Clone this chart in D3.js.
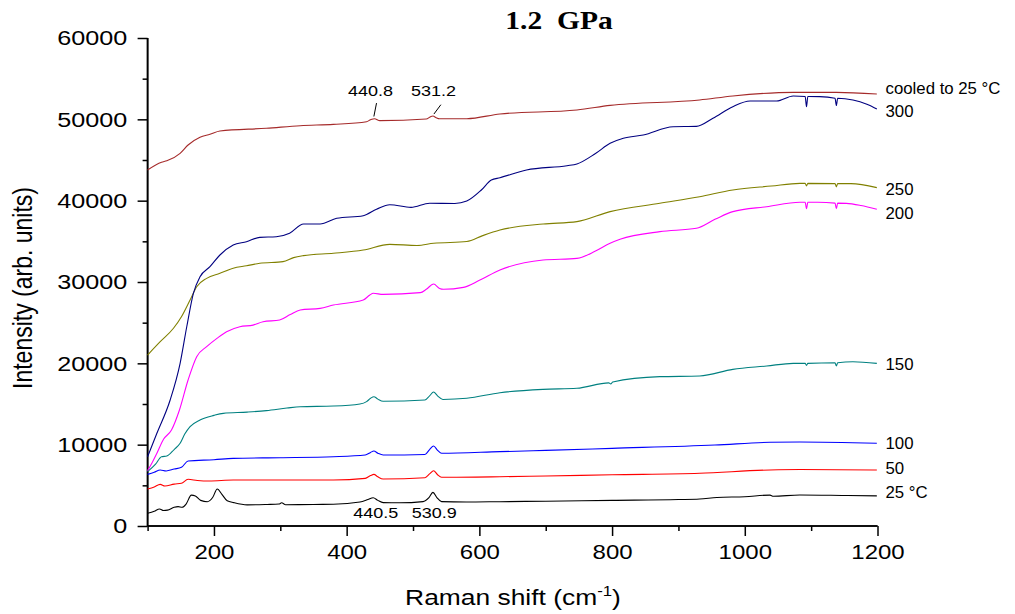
<!DOCTYPE html>
<html><head><meta charset="utf-8">
<script src="https://cdn.jsdelivr.net/npm/d3@7"></script>
<style>
body{margin:0;background:#fff;}
text{fill:#000;}
</style></head>
<body><svg id="c" width="1015" height="614"></svg>
<script>
// ---- data (Raman shift cm^-1, intensity arb. units) ----
const xTicks = [200, 400, 600, 800, 1000, 1200];
const yTicks = [0, 10000, 20000, 30000, 40000, 50000, 60000];
const seriesNames = ["25 \u00B0C", "50", "100", "150", "200", "250", "300", "cooled to 25 \u00B0C"];
const seriesColors = ["#000000", "#ff0000", "#0000ff", "#008080", "#ff00ff", "#808000", "#000080", "#a52a2a"];
const labelValues = [4120, 7160, 10240, 19860, 38540, 41430, 51020, 53850];

const s25 = [[100,1560],[110,1800],[118,2090],[124,1900],[130,1950],[140,2300],[146,2380],[152,2300],[158,2700],[166,3800],[172,3700],[180,3150],[190,2990],[198,3500],[205,4550],[212,3900],[220,3100],[230,2870],[250,2600],[280,2650],[298,2700],[302,2850],[308,2620],[350,2650],[380,2670],[420,2950],[432,3250],[440,3480],[447,3150],[455,2880],[480,2850],[515,3000],[524,3500],[530,4140],[536,3500],[543,3000],[580,2950],[631,2990],[700,3050],[800,3150],[900,3250],[932,3320],[958,3500],[1000,3600],[1038,3800],[1043,3650],[1083,3810],[1150,3750],[1199,3700]];
const s50 = [[100,4550],[110,4800],[119,5120],[126,4920],[140,5150],[151,5250],[161,5740],[175,5600],[193,5530],[229,5650],[300,5650],[380,5650],[428,5860],[436,6200],[441,6350],[447,6050],[455,5780],[518,5940],[525,6400],[531,6800],[537,6300],[543,5990],[631,6060],[700,6150],[800,6300],[932,6480],[1038,6890],[1083,6940],[1199,6890]];
const s100 = [[100,6350],[110,6600],[119,6890],[128,6770],[140,7000],[151,7210],[161,7990],[200,8150],[229,8320],[300,8400],[380,8520],[428,8730],[436,9050],[441,9220],[447,8950],[455,8730],[518,8800],[525,9400],[531,9840],[537,9300],[543,8940],[631,9140],[700,9300],[800,9550],[955,9960],[1038,10290],[1083,10330],[1199,10170]];
const s150 = [[100,6680],[112,7600],[121,8520],[129,8600],[140,9400],[149,10170],[156,11300],[164,12210],[179,13030],[200,13600],[214,13850],[250,14000],[279,14180],[310,14500],[330,14670],[380,14750],[420,15000],[430,15290],[436,15700],[441,15900],[447,15600],[455,15330],[518,15490],[525,16000],[531,16480],[537,16000],[545,15560],[581,15700],[631,16390],[696,16800],[747,16930],[795,17600],[798,17450],[801,17700],[872,18360],[932,18440],[982,19260],[1033,19670],[1073,20000],[1091,20000],[1093,19750],[1095,20000],[1136,20080],[1138,19670],[1140,20080],[1163,20200],[1199,20000]];
const s200 = [[100,6800],[107,7800],[114,8940],[124,10660],[136,11800],[148,14260],[161,17950],[174,20820],[189,22050],[205,23100],[219,23890],[239,24500],[259,24700],[274,25120],[299,25330],[315,26000],[330,26560],[360,26760],[380,27170],[425,27790],[435,28400],[440,28610],[455,28480],[511,28690],[520,29100],[531,29750],[540,29200],[546,29100],[576,29340],[600,30200],[631,31480],[696,32700],[747,32910],[775,33800],[797,34760],[812,35250],[872,36190],[927,36600],[955,37700],[982,38650],[1033,39260],[1083,39800],[1091,39800],[1093,39000],[1095,39800],[1110,39800],[1136,39700],[1138,39000],[1140,39700],[1153,39670],[1175,39400],[1199,38940]];
const s250 = [[100,21020],[119,22660],[139,24310],[151,25730],[164,27790],[174,29420],[189,30450],[209,31070],[229,31690],[249,31990],[269,32300],[304,32500],[320,33000],[335,33240],[380,33530],[425,33930],[465,34630],[506,34490],[531,34760],[581,34970],[605,35700],[631,36390],[696,37130],[747,37420],[797,38650],[872,39680],[932,40490],[982,41310],[1040,41800],[1083,42130],[1091,42130],[1093,41800],[1095,42130],[1136,42100],[1138,41700],[1140,42100],[1160,42100],[1199,41600]];
const s300 = [[100,8520],[114,11400],[134,15490],[149,20000],[159,24500],[169,28610],[179,30650],[194,31880],[209,33320],[229,34550],[249,34960],[269,35490],[294,35560],[314,35990],[335,37130],[360,37130],[385,37830],[425,38150],[445,38940],[465,39500],[497,39180],[525,39680],[563,39650],[581,39950],[603,41310],[618,42540],[631,42820],[671,43770],[732,44300],[747,44510],[775,45800],[797,47050],[817,47670],[847,48070],[892,49090],[927,49130],[952,50130],[982,51560],[1008,52250],[1048,52250],[1073,52870],[1091,52800],[1093,51560],[1095,52800],[1113,52790],[1136,52600],[1138,51700],[1140,52600],[1163,52380],[1184,51850],[1199,51270]];
const sCooled = [[100,43770],[121,44720],[129,44900],[149,45820],[161,46840],[179,47790],[194,48160],[209,48570],[279,48900],[330,49220],[380,49380],[430,49710],[436,49950],[442,50080],[450,49840],[520,50040],[526,50300],[530,50410],[535,50200],[540,50080],[581,50080],[631,50660],[747,51150],[797,51720],[932,52380],[982,52870],[1073,53320],[1138,53320],[1199,53110]];
const allSeries = [s25, s50, s100, s150, s200, s250, s300, sCooled];

// peak annotations: [text, text x, text baseline value, leader from [x,v] to [x,v] or null]
const peakLabels = [
  ["440.8", 436, 52870, [[441, 50350], [445, 52000]]],
  ["531.2", 531, 52870, [[531.5, 50650], [542, 51800]]],
  ["440.5", 444, 980, null],
  ["530.9", 531.9, 980, null]
];

// ---- layout ----
const SANS = '"Liberation Sans",Arial,sans-serif';
const SERIF = '"Liberation Serif","Times New Roman",serif';
const svg = d3.select("#c");
const x = d3.scaleLinear().domain([100, 1200]).range([147.6, 877.5]);
const y = d3.scaleLinear().domain([0, 60000]).range([526, 38]);
const SX = 1.2;

// axes
const gx = svg.append("g").attr("transform", "translate(0,526)");
gx.call(d3.axisBottom(x).tickValues(xTicks).tickSize(10).tickPadding(9).tickFormat(d3.format("d")));
gx.append("g").call(d3.axisBottom(x).tickValues(d3.range(100, 1200, 200)).tickSize(5).tickFormat(""));
gx.selectAll("text").attr("font-size", 20).attr("transform", `scale(${SX},1)`)
  .style("font-family", SANS).attr("fill", "#000");

const gy = svg.append("g").attr("transform", "translate(147.6,0)");
gy.call(d3.axisLeft(y).tickValues(yTicks).tickSize(10).tickPadding(7).tickFormat(d3.format("d")));
gy.append("g").call(d3.axisLeft(y).tickValues(d3.range(5000, 60000, 10000)).tickSize(5).tickFormat(""));
gy.selectAll("text").attr("font-size", 21).attr("transform", `scale(${SX},1)`)
  .style("font-family", SANS).attr("fill", "#000");
svg.selectAll(".domain").attr("stroke", "#000").attr("stroke-width", 1.6);
svg.selectAll(".tick line").attr("stroke", "#000").attr("stroke-width", 1.5);
gx.selectAll(".domain").attr("d", `M${x.range()[0]},0H${x.range()[1]}`);
gy.selectAll(".domain").attr("d", `M0,${y.range()[0]}V${y.range()[1]}`);

// lines
const line = d3.line().x(d => x(d[0])).y(d => y(d[1])).curve(d3.curveMonotoneX);
svg.append("g").selectAll("path").data(allSeries).join("path")
  .attr("d", line).attr("fill", "none")
  .attr("stroke", (d, i) => seriesColors[i]).attr("stroke-width", 1.1);

// series labels
function stext(px, py, str, size, sx, anchor) {
  return svg.append("text").attr("transform", `translate(${px},${py}) scale(${sx},1)`)
    .attr("font-size", size).attr("text-anchor", anchor || "start")
    .style("font-family", SANS).text(str);
}
seriesNames.forEach((n, i) => {
  stext(x(1200) + 8, y(labelValues[i]) + 6, n, 16, 1.05, "start");
});

// peak annotations
peakLabels.forEach(p => {
  stext(x(p[1]), y(p[2]), p[0], 15, SX, "middle");
  if (p[3]) {
    svg.append("line").attr("x1", x(p[3][0][0])).attr("y1", y(p[3][0][1]))
      .attr("x2", x(p[3][1][0])).attr("y2", y(p[3][1][1]))
      .attr("stroke", "#000").attr("stroke-width", 1);
  }
});

// title
svg.append("text").attr("transform", "translate(559,29) scale(1.18,1)")
  .attr("text-anchor", "middle").attr("font-size", 25).attr("font-weight", "bold")
  .style("font-family", SERIF)
  .text("1.2\u00A0\u00A0GPa");

// axis titles
const xl = svg.append("text").attr("transform", "translate(513,605) scale(1.2,1)")
  .attr("text-anchor", "middle").attr("font-size", 22).style("font-family", SANS);
xl.append("tspan").text("Raman shift (cm");
xl.append("tspan").attr("font-size", 14).attr("dy", -9).text("-1");
xl.append("tspan").attr("dy", 9).text(")");

svg.append("text").attr("transform", "translate(32,288) rotate(-90) scale(1,1.2)")
  .attr("text-anchor", "middle").attr("font-size", 23).style("font-family", SANS)
  .text("Intensity (arb. units)");
</script></body></html>
